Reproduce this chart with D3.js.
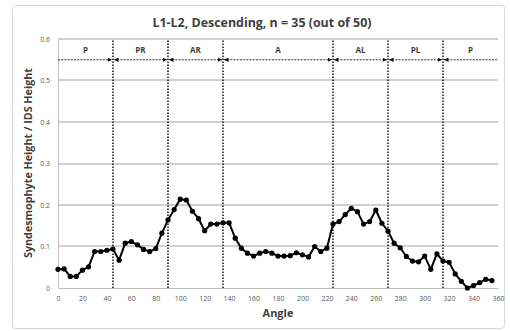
<!DOCTYPE html>
<html>
<head>
<meta charset="utf-8">
<script src="https://cdn.jsdelivr.net/npm/d3@7"></script>
<style>
  body { margin: 0; background: #fff; }
  text { font-family: "Open Sans", "Liberation Sans", sans-serif; }
</style>
</head>
<body>
<div id="chart"></div>
<script>
// data
const angles = [0, 5, 10, 15, 20, 25, 30, 35, 40, 45, 50, 55, 60, 65, 70, 75, 80, 85,
  90, 95, 100, 105, 110, 115, 120, 125, 130, 135, 140, 145, 150, 155, 160, 165, 170, 175,
  180, 185, 190, 195, 200, 205, 210, 215, 220, 225, 230, 235, 240, 245, 250, 255, 260, 265,
  270, 275, 280, 285, 290, 295, 300, 305, 310, 315, 320, 325, 330, 335, 340, 345, 350, 355];
const ratio = [0.045, 0.046, 0.028, 0.028, 0.043, 0.051, 0.088, 0.088, 0.091, 0.094, 0.067, 0.108,
  0.112, 0.104, 0.093, 0.088, 0.095, 0.132, 0.164, 0.189, 0.214, 0.212, 0.185, 0.167,
  0.138, 0.154, 0.154, 0.157, 0.157, 0.120, 0.096, 0.084, 0.077, 0.084, 0.088, 0.084,
  0.077, 0.077, 0.078, 0.085, 0.080, 0.075, 0.100, 0.088, 0.096, 0.154, 0.160, 0.177,
  0.192, 0.184, 0.154, 0.160, 0.188, 0.156, 0.137, 0.108, 0.097, 0.076, 0.065, 0.063,
  0.077, 0.045, 0.082, 0.065, 0.062, 0.034, 0.016, 0.000, 0.006, 0.013, 0.021, 0.018];

const xTicks = [0, 20, 40, 60, 80, 100, 120, 140, 160, 180, 200, 220, 240, 260, 280, 300, 320, 340, 360];
const yTicks = [0, 0.1, 0.2, 0.3, 0.4, 0.5, 0.6];

// regions
const bounds = [0, 45, 90, 135, 225, 270, 315, 360];
const regions = ['P', 'PR', 'AR', 'A', 'AL', 'PL', 'P'];
const arrowLevel = 0.55;
const labelLevel = 0.573;

const title = 'L1-L2, Descending, n = 35 (out of 50)';

const width = 510;
const height = 331;

const x = d3.scaleLinear().domain([0, 360]).range([58, 498]);
const y = d3.scaleLinear().domain([0, 0.6]).range([288, 39]);

const svg = d3.select('#chart').append('svg')
  .attr('width', width)
  .attr('height', height);

// outer frame
svg.append('rect')
  .attr('x', 12.5).attr('y', 5.5)
  .attr('width', 492).attr('height', 323)
  .attr('rx', 3)
  .attr('fill', '#fff')
  .attr('stroke', '#d9d9d9');

// arrow heads
const defs = svg.append('defs');
defs.append('marker')
  .attr('id', 'arr-end')
  .attr('viewBox', '0 0 6 6')
  .attr('refX', 6).attr('refY', 3)
  .attr('markerWidth', 4.5).attr('markerHeight', 4.5)
  .attr('markerUnits', 'userSpaceOnUse')
  .attr('orient', 'auto')
  .append('path').attr('d', 'M0,0L6,3L0,6Z').attr('fill', '#111');
defs.append('marker')
  .attr('id', 'arr-start')
  .attr('viewBox', '0 0 6 6')
  .attr('refX', 0).attr('refY', 3)
  .attr('markerWidth', 4.5).attr('markerHeight', 4.5)
  .attr('markerUnits', 'userSpaceOnUse')
  .attr('orient', 'auto')
  .append('path').attr('d', 'M6,0L0,3L6,6Z').attr('fill', '#111');

// gridlines as thin bands
svg.append('g')
  .selectAll('rect')
  .data(yTicks.slice(1))
  .enter().append('rect')
  .attr('x', x(0))
  .attr('width', x(360) - x(0))
  .attr('y', d => Math.round(y(d)) - 1)
  .attr('height', 2)
  .attr('fill', '#d0d0d0');

// axes
const yAxis = svg.append('g')
  .attr('transform', `translate(${x(0)},0)`)
  .call(d3.axisLeft(y).tickValues(yTicks).tickSize(0).tickPadding(8)
    .tickFormat(d => d === 0 ? '0' : d3.format('.1f')(d)));
yAxis.select('.domain').attr('stroke', '#bfbfbf');

const xAxis = svg.append('g')
  .attr('transform', `translate(0,${y(0)})`)
  .call(d3.axisBottom(x).tickValues(xTicks).tickSize(0).tickPadding(8));
xAxis.select('.domain').attr('stroke', '#bfbfbf');

svg.selectAll('.tick text')
  .attr('font-size', 7)
  .attr('fill', '#595959')
  .style('font-family', '"Open Sans", sans-serif');

// region boundaries
svg.append('g')
  .selectAll('line')
  .data(bounds.slice(1, -1))
  .enter().append('line')
  .attr('x1', d => x(d)).attr('x2', d => x(d))
  .attr('y1', y(0)).attr('y2', y(0.6))
  .attr('stroke', '#222')
  .attr('stroke-width', 1.6)
  .attr('stroke-dasharray', '1.6,1.4');

// double arrows for each region
svg.append('g')
  .selectAll('line')
  .data(regions)
  .enter().append('line')
  .attr('x1', (d, i) => x(bounds[i]) + (i === 0 ? 0 : 1))
  .attr('x2', (d, i) => x(bounds[i + 1]) - (i === regions.length - 1 ? 0 : 1))
  .attr('y1', y(arrowLevel)).attr('y2', y(arrowLevel))
  .attr('stroke', '#333')
  .attr('stroke-width', 1)
  .attr('stroke-dasharray', '2,1.2')
  .attr('marker-start', (d, i) => i === 0 ? null : 'url(#arr-start)')
  .attr('marker-end', (d, i) => i === regions.length - 1 ? null : 'url(#arr-end)');

svg.append('g')
  .selectAll('text')
  .data(regions)
  .enter().append('text')
  .attr('x', (d, i) => x((bounds[i] + bounds[i + 1]) / 2))
  .attr('y', y(labelLevel))
  .attr('dy', '0.35em')
  .attr('text-anchor', 'middle')
  .attr('font-size', 8)
  .attr('font-weight', 'bold')
  .attr('fill', '#404040')
  .text(d => d);

// data line
const pts = angles.map((a, i) => ({ a, v: ratio[i] }));

svg.append('path')
  .datum(pts)
  .attr('fill', 'none')
  .attr('stroke', '#000')
  .attr('stroke-width', 2)
  .attr('stroke-linejoin', 'round')
  .attr('d', d3.line().x(d => x(d.a)).y(d => y(d.v)));

svg.append('g')
  .selectAll('circle')
  .data(pts)
  .enter().append('circle')
  .attr('cx', d => x(d.a))
  .attr('cy', d => y(d.v))
  .attr('r', 2.6)
  .attr('fill', '#000');

// titles
svg.append('text')
  .attr('x', 262).attr('y', 27)
  .attr('text-anchor', 'middle')
  .attr('font-size', 13)
  .attr('font-weight', 'bold')
  .attr('fill', '#404040')
  .attr('textLength', 219)
  .attr('lengthAdjust', 'spacingAndGlyphs')
  .text(title);

svg.append('text')
  .attr('transform', 'translate(32,163) rotate(-90)')
  .attr('text-anchor', 'middle')
  .attr('font-size', 11)
  .attr('font-weight', 'bold')
  .attr('fill', '#404040')
  .attr('textLength', 190)
  .attr('lengthAdjust', 'spacingAndGlyphs')
  .text('Syndesmophyte Height / IDS Height');

svg.append('text')
  .attr('x', 278).attr('y', 317)
  .attr('text-anchor', 'middle')
  .attr('font-size', 11)
  .attr('font-weight', 'bold')
  .attr('fill', '#404040')
  .text('Angle');
</script>
</body>
</html>
